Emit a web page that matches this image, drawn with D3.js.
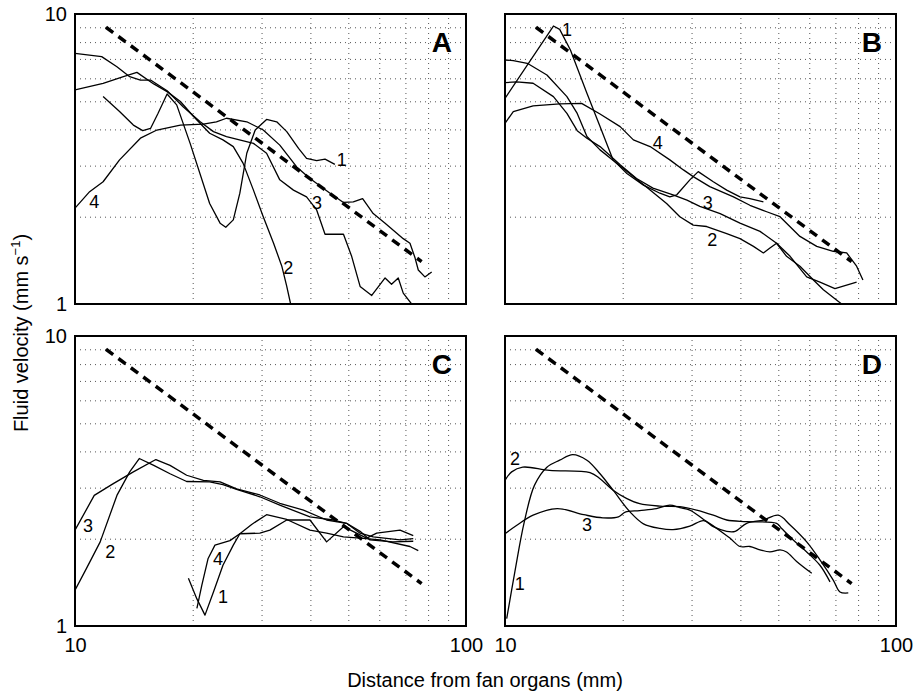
<!DOCTYPE html>
<html>
<head>
<meta charset="utf-8">
<script src="https://cdn.jsdelivr.net/npm/d3@7/dist/d3.min.js"></script>
<style>
body { margin: 0; background: #fff; }
text { font-family: "Liberation Sans", Arial, Helvetica, sans-serif; }
</style>
</head>
<body>
<svg id="chart" width="917" height="695"></svg>
<script>
// distance (mm), velocity (mm/s) pairs
const curveA1 = [[11.8,5.19],[13.0,4.61],[14.1,4.14],[14.9,3.96],[15.6,4.03],[16.3,4.54],[17.2,5.30],[18.2,4.86],[19.7,3.58],[22.1,2.22],[23.5,1.90],[24.3,1.84],[25.4,1.95],[26.4,2.41],[27.5,3.31],[28.9,3.98],[30.9,4.33],[32.8,4.25],[34.8,3.93],[37.3,3.44],[39.1,3.18],[41.5,3.12],[43.6,3.16],[46.2,3.03]];
const curveA2 = [[10,5.47],[11.8,5.77],[13.3,6.08],[14.4,6.29],[15.9,5.74],[17.2,5.40],[18.6,4.99],[20.1,4.43],[22.1,3.88],[23.9,3.68],[25.4,3.49],[26.9,3.06],[28.6,2.47],[30.3,2.0],[32.2,1.62],[33.8,1.35],[34.8,1.15],[35.6,1.0]];
const curveA3 = [[10,7.32],[11.7,7.13],[12.8,6.58],[13.8,6.08],[14.7,5.92],[15.6,5.92],[17.2,5.44],[18.9,4.79],[20.9,4.25],[22.6,3.93],[24.4,3.78],[28.6,3.58],[30.9,3.31],[33.4,2.68],[36.2,2.47],[39.1,2.34],[41.5,2.11],[43.6,1.74],[48.6,1.74],[51.0,1.46],[53.6,1.15],[57.4,1.07],[62.1,1.23],[64.5,1.17],[67.1,1.23],[69.1,1.09],[72.6,1.0]];
const curveA4 = [[10,2.14],[10.9,2.44],[11.8,2.64],[13.0,3.14],[14.7,3.73],[16.2,3.98],[18.6,4.14],[21.3,4.17],[23.0,4.25],[24.4,4.37],[27.5,4.25],[30.3,3.98],[33.4,3.53],[36.9,2.97],[39.9,2.71],[44.9,2.41],[48.6,2.24],[51.5,2.25],[54.4,2.31],[57.9,2.05],[62.1,1.90],[69.1,1.68],[71.9,1.62],[74.1,1.44],[75.5,1.31],[78.5,1.24],[81.7,1.29]];

const curveB1 = [[10,5.12],[13.3,9.09],[13.8,8.85],[14.7,7.51],[16.2,5.33],[17.5,4.09],[18.9,3.14],[20.5,2.82],[22.6,2.57],[24.9,2.41],[26.4,2.34],[27.5,2.38],[29.7,2.68],[31.2,2.86],[34.1,2.64],[36.9,2.47],[39.9,2.34],[42.3,2.31],[45.8,2.25]];
const curveB2 = [[10,6.94],[10.5,6.91],[11.4,6.76],[12.8,6.16],[14.4,5.19],[15.3,4.54],[16.2,3.78],[17.5,3.40],[19.3,3.06],[21.3,2.75],[23.5,2.47],[25.9,2.22],[28.0,2.0],[30.3,1.87],[32.8,1.85],[36.9,1.75],[39.9,1.68],[43.2,1.58],[45.8,1.50],[47.6,1.56],[49.5,1.62],[52.5,1.46],[56.8,1.35],[61.5,1.21],[65.2,1.12],[72.6,1.0]];
const curveB3 = [[10,5.80],[10.7,5.83],[11.8,5.77],[13.3,5.19],[14.4,4.54],[15.3,3.96],[16.2,3.73],[17.5,3.49],[19.7,3.02],[21.7,2.71],[23.9,2.51],[26.9,2.38],[29.2,2.28],[31.5,2.17],[35.5,2.05],[39.9,1.90],[44.9,1.78],[49.5,1.62],[53.6,1.46],[59.1,1.24],[63.9,1.19],[69.8,1.13],[79.3,1.19]];
const curveB4 = [[10,4.20],[10.5,4.61],[11.8,4.82],[13.8,4.90],[15.7,4.92],[17.5,4.52],[19.7,4.09],[21.3,3.68],[23.5,3.49],[26.4,3.14],[28.6,2.90],[30.3,2.75],[33.4,2.54],[38.4,2.34],[42.3,2.19],[46.7,2.08],[50.5,2.0],[56.8,1.71],[62.7,1.58],[69.1,1.52],[74.8,1.50],[79.3,1.35],[82.3,1.21]];

const curveC1 = [[19.5,1.46],[20.5,1.24],[21.5,1.09],[22.6,1.31],[23.9,1.62],[25.4,1.90],[26.4,2.08],[28.3,2.24],[30.9,2.42],[34.8,2.33],[39.9,2.14],[44.0,2.09],[48.6,2.03],[53.6,2.01],[60.3,1.98],[71.9,1.88],[75.5,1.82]];
const curveC2 = [[10,1.33],[10.7,1.58],[11.6,1.95],[12.8,2.82],[13.8,3.40],[14.6,3.78],[15.9,3.58],[17.5,3.35],[19.3,3.15],[22.1,3.14],[23.9,3.07],[25.9,2.96],[29.7,2.79],[33.4,2.61],[39.9,2.38],[45.8,2.32],[49.5,2.26],[53.6,2.09],[57.9,2.03],[67.8,1.98],[73.3,2.0]];
const curveC3 = [[10,2.14],[11.2,2.82],[12.5,3.09],[14.1,3.40],[16.1,3.75],[17.5,3.58],[19.3,3.31],[21.3,3.18],[23.5,3.14],[25.9,2.97],[29.7,2.83],[33.4,2.65],[38.4,2.51],[44.0,2.32],[49.5,2.26],[53.6,2.12],[56.8,1.98],[65.0,1.95],[73.3,1.96]];
const curveC4 = [[20.5,1.15],[21.1,1.38],[21.9,1.71],[22.8,1.90],[24.9,1.97],[26.4,2.08],[29.7,2.09],[31.5,2.14],[34.8,2.32],[39.9,2.32],[44.0,1.95],[48.6,2.20],[52.5,2.09],[55.7,2.01],[59.1,2.09],[67.8,2.14],[73.3,2.05]];

const curveD1 = [[10.1,1.06],[10.6,1.54],[11.2,2.28],[11.9,3.06],[12.8,3.53],[13.8,3.73],[14.9,3.90],[16.2,3.73],[17.5,3.35],[18.9,2.94],[20.9,2.47],[22.6,2.25],[24.9,2.17],[26.9,2.15],[29.7,2.21],[32.2,2.31],[34.1,2.20],[36.9,2.12],[38.8,2.12],[41.5,2.26],[45.8,2.32],[50.0,2.41],[53.6,2.23],[59.1,1.95],[63.9,1.69],[69.1,1.44],[71.9,1.31],[75.5,1.30]];
const curveD2 = [[10,3.18],[10.4,3.40],[11.1,3.53],[13.0,3.44],[16.5,3.38],[17.5,3.22],[18.9,2.94],[20.5,2.75],[22.1,2.64],[24.9,2.59],[28.0,2.58],[30.9,2.51],[34.1,2.41],[36.9,2.32],[41.5,2.29],[49.5,2.26],[51.0,2.17],[54.6,1.98],[59.1,1.80],[63.9,1.62],[67.8,1.42]];
const curveD3 = [[10,2.08],[10.7,2.22],[11.8,2.41],[13.6,2.54],[15.9,2.42],[17.8,2.36],[19.5,2.38],[20.3,2.47],[22.1,2.50],[24.4,2.54],[26.4,2.61],[28.0,2.56],[29.7,2.51],[32.2,2.33],[34.8,2.17],[37.6,2.01],[39.9,1.88],[42.3,1.88],[44.9,1.83],[47.6,1.80],[50.5,1.83],[52.5,1.80],[55.7,1.67],[60.9,1.52]];

// dashed reference line (v ~ 1/x)
const refDist = [12, 77];
const refVel = [9.0, 1.40];

// curve number labels: [text, distance, velocity]
const labelsA = [["1",48.1,3.14],["2",35.1,1.33],["3",41.6,2.23],["4",11.2,2.25]];
const labelsB = [["1",14.4,8.81],["4",24.6,3.59],["3",33.0,2.23],["2",33.9,1.66]];
const labelsC = [["3",10.8,2.22],["2",12.3,1.80],["4",23.2,1.70],["1",23.9,1.26]];
const labelsD = [["2",10.6,3.78],["3",16.2,2.23],["1",10.9,1.40]];

const gridDist = [20,30,40,50,60,70,80,90];
const gridVel = [2,3,4,5,6,7,8,9];
const tickDist = [10,100];
const tickVel = [1,10];

const panelW = 391;
const panelH = 290;

const panels = [
    {name:"A", left:75, top:14, curves:[curveA1,curveA2,curveA3,curveA4], labels:labelsA, yTicks:true, xTicks:false},
    {name:"B", left:505, top:14, curves:[curveB1,curveB2,curveB3,curveB4], labels:labelsB, yTicks:false, xTicks:false},
    {name:"C", left:75, top:336, curves:[curveC1,curveC2,curveC3,curveC4], labels:labelsC, yTicks:true, xTicks:true},
    {name:"D", left:505, top:336, curves:[curveD1,curveD2,curveD3], labels:labelsD, yTicks:false, xTicks:true}
];

const svg = d3.select("#chart");

const x = d3.scaleLog().domain([10,100]).range([0,panelW]);
const y = d3.scaleLog().domain([1,10]).range([panelH,0]);

const line = d3.line().x(d => x(d[0])).y(d => y(d[1]));
const smoothLine = d3.line().x(d => x(d[0])).y(d => y(d[1])).curve(d3.curveCatmullRom.alpha(0.5));

svg.append("defs").append("clipPath")
    .attr("id","panel-clip")
    .append("rect")
    .attr("width",panelW)
    .attr("height",panelH);

panels.forEach(p =>
{
    const g = svg.append("g").attr("transform",`translate(${p.left},${p.top})`);

    // dotted grid
    g.append("g")
        .attr("transform",`translate(0,${panelH})`)
        .call(d3.axisBottom(x).tickValues(gridDist).tickSize(-panelH).tickFormat(""))
        .call(s => s.select(".domain").remove())
        .selectAll("line")
        .attr("stroke","#555")
        .attr("stroke-dasharray","1,4");

    g.append("g")
        .call(d3.axisLeft(y).tickValues(gridVel).tickSize(-panelW).tickFormat(""))
        .call(s => s.select(".domain").remove())
        .selectAll("line")
        .attr("stroke","#555")
        .attr("stroke-dasharray","1,4");

    const plot = g.append("g").attr("clip-path","url(#panel-clip)");

    plot.append("path")
        .datum(refDist.map((d,i) => [d, refVel[i]]))
        .attr("d",line)
        .attr("fill","none")
        .attr("stroke","black")
        .attr("stroke-width",3.5)
        .attr("stroke-dasharray","9,6.5");

    plot.selectAll(".curve")
        .data(p.curves)
        .enter()
        .append("path")
        .attr("d",d => p.name == "D" ? smoothLine(d) : line(d))
        .attr("fill","none")
        .attr("stroke","black")
        .attr("stroke-width",1.3)
        .attr("stroke-linejoin","round");

    g.append("rect")
        .attr("width",panelW)
        .attr("height",panelH)
        .attr("fill","none")
        .attr("stroke","black")
        .attr("stroke-width",2);

    g.selectAll(".num")
        .data(p.labels)
        .enter()
        .append("text")
        .text(d => d[0])
        .attr("x",d => x(d[1]))
        .attr("y",d => y(d[2]))
        .attr("text-anchor","middle")
        .attr("dominant-baseline","central")
        .attr("font-size",18);

    g.append("text")
        .text(p.name)
        .attr("x",panelW-14)
        .attr("y",38)
        .attr("text-anchor","end")
        .attr("font-size",28)
        .attr("font-weight","bold");

    if (p.yTicks)
    {
        g.append("g")
            .call(d3.axisLeft(y).tickValues(tickVel).tickSize(0).tickPadding(8).tickFormat(d3.format("d")))
            .call(s => s.select(".domain").remove())
            .selectAll("text")
            .attr("font-size",20)
            .attr("font-family","'Liberation Sans', Arial, sans-serif");
    }
    if (p.xTicks)
    {
        g.append("g")
            .attr("transform",`translate(0,${panelH})`)
            .call(d3.axisBottom(x).tickValues(tickDist).tickSize(0).tickPadding(12).tickFormat(d3.format("d")))
            .call(s => s.select(".domain").remove())
            .selectAll("text")
            .attr("font-size",20)
            .attr("font-family","'Liberation Sans', Arial, sans-serif");
    }
});

const yTitle = svg.append("text")
    .attr("transform","translate(28,333) rotate(-90)")
    .attr("text-anchor","middle")
    .attr("font-size",20);
yTitle.append("tspan").text("Fluid velocity (mm s");
yTitle.append("tspan").text("\u22121").attr("font-size",13).attr("dy",-8);
yTitle.append("tspan").text(")").attr("dy",8);

svg.append("text")
    .attr("x",485)
    .attr("y",687)
    .attr("text-anchor","middle")
    .attr("font-size",20)
    .text("Distance from fan organs (mm)");
</script>
</body>
</html>
